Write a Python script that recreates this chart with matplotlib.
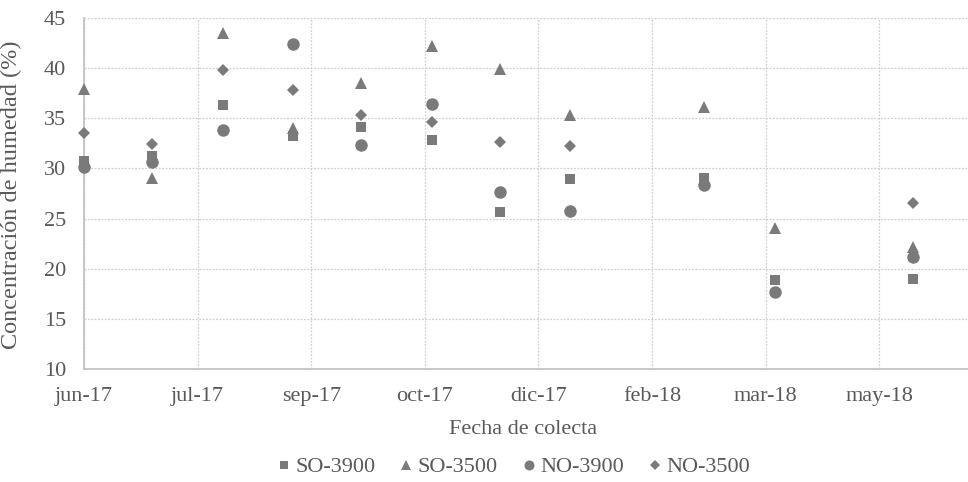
import matplotlib
matplotlib.use("Agg")
import matplotlib.pyplot as plt
import matplotlib.dates as mdates
from matplotlib.ticker import FuncFormatter
import numpy as np
import pandas as pd

# Collection dates (first day of each sampled month)
fechas = ["2017-06-01", "2017-07-01", "2017-08-01", "2017-09-01", "2017-10-01",
          "2017-11-01", "2017-12-01", "2018-01-01", "2018-03-01", "2018-04-01",
          "2018-06-01"]

# Moisture content (%) per site
so_3900 = [30.7, 31.2, 36.3, 33.2, 34.1, 32.8, 25.7, 28.9, 29.0, 18.9, 19.0]
so_3500 = [37.9, 29.0, 43.5, 34.0, 38.5, 42.2, 39.9, 35.3, 36.1, 24.1, 22.2]
no_3900 = [30.1, 30.6, 33.8, 42.4, 32.3, 36.4, 27.6, 25.8, 28.3, 17.7, 21.2]
no_3500 = [33.5, 32.4, 39.8, 37.8, 35.3, 34.6, 32.6, 32.2, np.nan, np.nan, 26.6]

series_names = ["SO-3900", "SO-3500", "NO-3900", "NO-3500"]
meses = ["ene", "feb", "mar", "abr", "may", "jun",
         "jul", "ago", "sep", "oct", "nov", "dic"]

plt.rcParams["font.family"] = ["Liberation Serif", "DejaVu Serif"]
text_color = "#595959"
mark_color = "#7a7a7a"

x = pd.to_datetime(fechas)

fig = plt.figure(figsize=(9.68, 4.82), dpi=100)
ax = fig.add_axes([84 / 968, 113 / 482, 1 - 84 / 968, (369 - 18) / 482])

styles = [("s", 7.8), ("^", 9.0), ("o", 9.0), ("D", 6.4)]
for vals, name, (m, ms) in zip([so_3900, so_3500, no_3900, no_3500], series_names, styles):
    ax.plot(x, vals, linestyle="none", marker=m, markersize=ms,
            color=mark_color, markeredgewidth=0, label=name, clip_on=False, zorder=3)

start = pd.Timestamp("2017-06-01")
ticks = pd.date_range(start, periods=8, freq="50D")
ax.set_xticks(mdates.date2num(ticks))
ax.xaxis.set_major_formatter(FuncFormatter(
    lambda v, pos: "{}-{:02d}".format(meses[mdates.num2date(v).month - 1],
                                      mdates.num2date(v).year % 100)))
ax.set_xlim(mdates.date2num(start), mdates.date2num(start) + 389)
ax.set_ylim(10, 45)
ax.set_yticks(np.arange(10, 46, 5))

ax.grid(True, color="#cfcfcf", linestyle=(0, (1.5, 1.2)), linewidth=0.9)
ax.set_axisbelow(True)
for side in ["top", "right"]:
    ax.spines[side].set_visible(False)
for side in ["left", "bottom"]:
    ax.spines[side].set_color("#bfbfbf")
    ax.spines[side].set_linewidth(1.2)
ax.tick_params(length=0, labelsize=16, colors=text_color)
ax.tick_params(axis="x", pad=13)
ax.tick_params(axis="y", pad=13)

ax.set_xlabel("Fecha de colecta", fontsize=16, color=text_color)
ax.xaxis.set_label_coords((523 - 84) / (968 - 84), -(420 - 369) / (369 - 18))
ax.set_ylabel("Concentración de humedad (%)", fontsize=17.5, color=text_color)
ax.yaxis.set_label_coords(-(84 - 22) / (968 - 84), (369 - 195) / (369 - 18))

fig.legend(loc="center", bbox_to_anchor=(513 / 968, 15 / 482), ncol=4, frameon=False,
           fontsize=16, labelcolor=text_color, markerscale=0.8, handlelength=0.7,
           handletextpad=0.15, columnspacing=1.05)

fig.savefig("out.png", dpi=100)
